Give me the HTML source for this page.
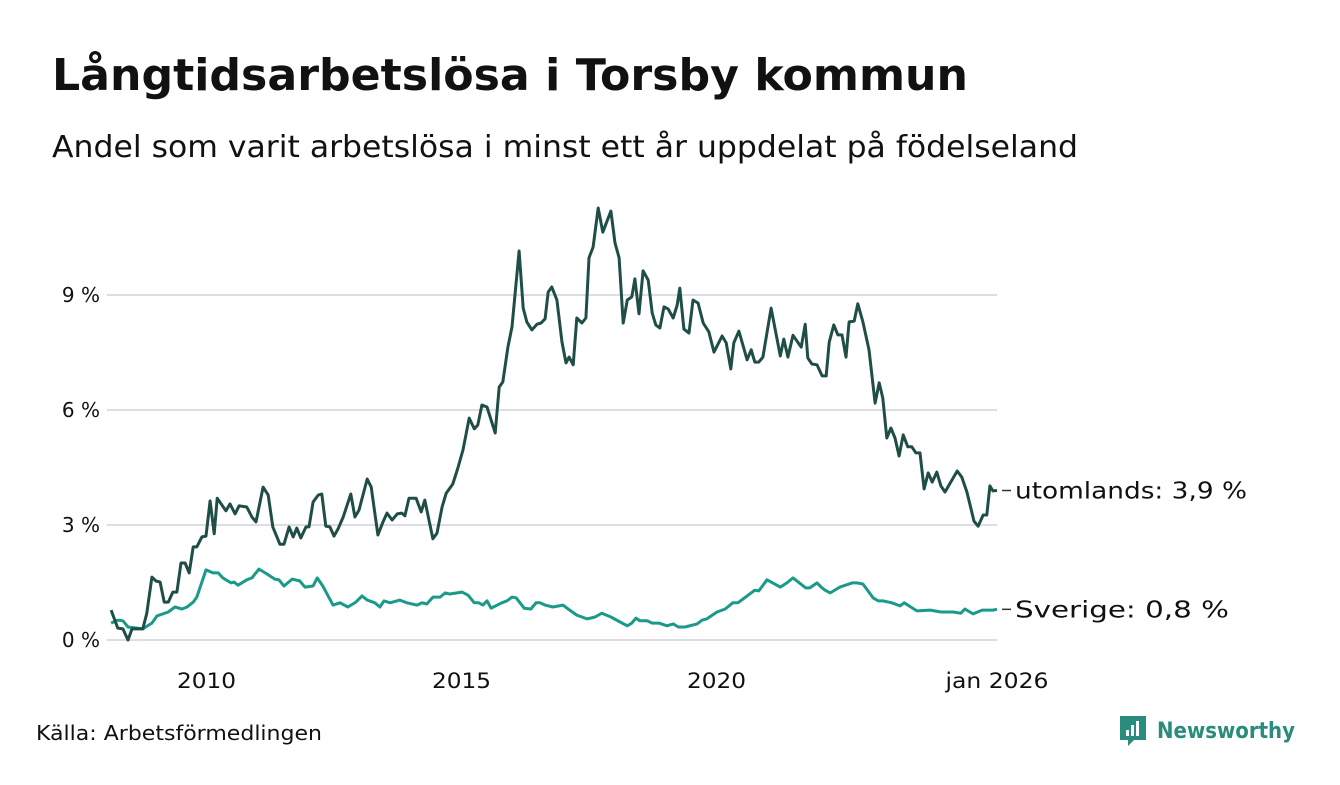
<!DOCTYPE html>
<html><head><meta charset="utf-8">
<style>
body{margin:0;background:#fff;width:1340px;height:780px;overflow:hidden;font-family:"Liberation Sans","DejaVu Sans",sans-serif;color:#111;}
svg text{font-family:"DejaVu Sans","Liberation Sans",sans-serif;}
</style></head>
<body>
<svg width="1340" height="780">
<text x="52" y="90" font-size="44" font-weight="bold" fill="#111" textLength="916" lengthAdjust="spacingAndGlyphs">Långtidsarbetslösa i Torsby kommun</text>
<text x="52" y="157" font-size="30" fill="#111" textLength="1026" lengthAdjust="spacingAndGlyphs">Andel som varit arbetslösa i minst ett år uppdelat på födelseland</text>
<g id="grid"></g><g id="yt"></g><g id="xt"></g><g id="lines"></g><g id="labels"></g>
<text x="36" y="740" font-size="20" fill="#111" textLength="286" lengthAdjust="spacingAndGlyphs">Källa: Arbetsförmedlingen</text>
<g>
<path d="M1120,716 h26 v24 h-12 l-6,6 v-6 h-8 z" fill="#2a8c7c"/>
<rect x="1126" y="730" width="3" height="6" fill="#fff"/><rect x="1131" y="725" width="3" height="11" fill="#fff"/><rect x="1136" y="721" width="3" height="15" fill="#fff"/>
<text x="1157" y="738" font-size="22" font-weight="bold" fill="#2a8c7c" textLength="138" lengthAdjust="spacingAndGlyphs">Newsworthy</text>
</g>
</svg>
<script>
const yTicks=[0,3,6,9];
const yTickLabels=["0 %","3 %","6 %","9 %"];
const xTicks=[2010.5,2015.5,2020.5,2026.0];
const xTickLabels=["2010","2015","2020","jan 2026"];
const datesU=[2008.63,2008.76,2008.86,2008.96,2009.04,2009.25,2009.33,2009.43,2009.51,2009.59,2009.67,2009.75,2009.84,2009.92,2010.00,2010.08,2010.16,2010.24,2010.31,2010.41,2010.49,2010.57,2010.65,2010.71,2010.88,2010.96,2011.06,2011.14,2011.29,2011.39,2011.47,2011.61,2011.71,2011.80,2011.94,2012.02,2012.12,2012.20,2012.27,2012.35,2012.45,2012.51,2012.59,2012.69,2012.76,2012.84,2012.92,2013.00,2013.08,2013.18,2013.33,2013.41,2013.49,2013.65,2013.73,2013.86,2013.96,2014.04,2014.14,2014.24,2014.33,2014.39,2014.47,2014.61,2014.71,2014.78,2014.94,2015.02,2015.12,2015.20,2015.33,2015.43,2015.53,2015.65,2015.75,2015.82,2015.90,2016.00,2016.16,2016.24,2016.31,2016.41,2016.49,2016.63,2016.71,2016.78,2016.88,2016.98,2017.06,2017.14,2017.20,2017.27,2017.37,2017.47,2017.55,2017.61,2017.69,2017.76,2017.86,2017.94,2018.00,2018.08,2018.18,2018.27,2018.43,2018.51,2018.59,2018.67,2018.75,2018.84,2018.90,2018.98,2019.06,2019.16,2019.24,2019.31,2019.39,2019.47,2019.55,2019.65,2019.73,2019.78,2019.86,2019.96,2020.04,2020.14,2020.24,2020.35,2020.45,2020.61,2020.69,2020.78,2020.84,2020.94,2021.10,2021.18,2021.25,2021.33,2021.41,2021.57,2021.75,2021.82,2021.90,2022.00,2022.16,2022.24,2022.29,2022.37,2022.47,2022.57,2022.65,2022.71,2022.80,2022.88,2022.96,2023.04,2023.10,2023.20,2023.27,2023.37,2023.49,2023.61,2023.69,2023.76,2023.84,2023.92,2024.00,2024.08,2024.16,2024.25,2024.33,2024.41,2024.49,2024.57,2024.65,2024.73,2024.82,2024.90,2024.98,2025.22,2025.31,2025.41,2025.55,2025.63,2025.73,2025.80,2025.86,2025.92,2026.00];
const valuesU=[0.78,0.31,0.29,0.0,0.29,0.29,0.70,1.64,1.54,1.51,0.99,0.99,1.25,1.25,2.01,2.01,1.75,2.43,2.43,2.69,2.71,3.63,2.77,3.70,3.37,3.55,3.29,3.50,3.47,3.21,3.08,3.99,3.78,2.95,2.50,2.50,2.95,2.69,2.92,2.66,2.95,2.95,3.60,3.78,3.81,2.97,2.95,2.71,2.90,3.21,3.81,3.21,3.39,4.20,3.99,2.74,3.08,3.31,3.13,3.29,3.31,3.24,3.70,3.70,3.34,3.65,2.64,2.79,3.47,3.83,4.07,4.49,4.96,5.79,5.51,5.61,6.13,6.08,5.40,6.60,6.73,7.64,8.17,10.15,8.66,8.30,8.09,8.24,8.27,8.38,9.08,9.21,8.87,7.77,7.23,7.38,7.18,8.40,8.27,8.40,9.97,10.25,11.27,10.64,11.19,10.36,9.97,8.27,8.87,8.95,9.42,8.51,9.63,9.39,8.53,8.22,8.14,8.69,8.64,8.40,8.74,9.18,8.11,8.01,8.87,8.79,8.27,8.04,7.51,7.93,7.75,7.07,7.75,8.06,7.31,7.57,7.25,7.25,7.38,8.66,7.41,7.85,7.38,7.95,7.64,8.24,7.36,7.20,7.18,6.89,6.89,7.77,8.22,7.96,7.96,7.38,8.30,8.32,8.77,8.30,7.57,6.18,6.71,6.31,5.27,5.53,5.27,4.80,5.35,5.04,5.04,4.88,4.88,3.94,4.36,4.12,4.38,4.02,3.86,4.41,4.25,3.86,3.10,2.97,3.26,3.26,4.02,3.89,3.90];
const datesS=[2008.63,2008.76,2008.86,2008.96,2009.25,2009.43,2009.53,2009.75,2009.88,2010.02,2010.12,2010.24,2010.31,2010.49,2010.63,2010.73,2010.82,2010.98,2011.04,2011.12,2011.29,2011.39,2011.53,2011.69,2011.84,2011.92,2012.02,2012.18,2012.33,2012.43,2012.59,2012.67,2012.78,2012.98,2013.12,2013.27,2013.43,2013.55,2013.65,2013.80,2013.90,2013.98,2014.10,2014.29,2014.43,2014.63,2014.73,2014.82,2014.94,2015.08,2015.18,2015.27,2015.51,2015.63,2015.75,2015.84,2015.92,2016.00,2016.08,2016.29,2016.39,2016.49,2016.57,2016.73,2016.86,2016.96,2017.04,2017.14,2017.29,2017.49,2017.59,2017.76,2017.86,2017.96,2018.12,2018.25,2018.43,2018.61,2018.75,2018.84,2018.92,2019.00,2019.14,2019.24,2019.37,2019.53,2019.65,2019.75,2019.88,2020.12,2020.22,2020.31,2020.51,2020.67,2020.82,2020.92,2021.10,2021.25,2021.33,2021.49,2021.75,2021.88,2022.00,2022.25,2022.33,2022.47,2022.57,2022.63,2022.73,2022.92,2023.16,2023.25,2023.37,2023.57,2023.67,2023.76,2023.94,2024.10,2024.18,2024.25,2024.43,2024.69,2024.90,2025.04,2025.14,2025.29,2025.37,2025.53,2025.71,2025.82,2025.92,2026.00];
const valuesS=[0.44,0.52,0.50,0.34,0.29,0.44,0.63,0.73,0.86,0.81,0.86,0.99,1.12,1.83,1.75,1.75,1.62,1.49,1.51,1.43,1.57,1.62,1.85,1.72,1.59,1.57,1.41,1.59,1.54,1.38,1.41,1.62,1.41,0.91,0.97,0.86,0.99,1.15,1.04,0.97,0.86,1.02,0.97,1.04,0.97,0.91,0.97,0.94,1.12,1.12,1.23,1.20,1.25,1.17,0.97,0.97,0.91,1.02,0.83,0.97,1.02,1.12,1.10,0.83,0.81,0.97,0.97,0.91,0.86,0.91,0.81,0.65,0.60,0.55,0.60,0.70,0.60,0.47,0.37,0.44,0.57,0.50,0.50,0.44,0.44,0.37,0.42,0.34,0.34,0.42,0.52,0.55,0.73,0.81,0.97,0.97,1.15,1.30,1.28,1.57,1.38,1.49,1.62,1.36,1.36,1.49,1.36,1.30,1.23,1.38,1.49,1.49,1.46,1.10,1.02,1.02,0.97,0.89,0.97,0.91,0.76,0.78,0.73,0.73,0.73,0.70,0.81,0.68,0.78,0.78,0.78,0.80];
const seriesLabels=["utomlands: 3,9 %","Sverige: 0,8 %"];

const NS="http://www.w3.org/2000/svg";
function xs(t){return 79+(t-2008)*51;}
function ys(v){return 640-v*38.33;}
function mk(tag,attrs,parent){const e=document.createElementNS(NS,tag);for(const k in attrs)e.setAttribute(k,attrs[k]);parent.appendChild(e);return e;}
const grid=document.getElementById('grid'),yt=document.getElementById('yt'),xt=document.getElementById('xt'),lines=document.getElementById('lines'),labels=document.getElementById('labels');
yTicks.forEach((v,i)=>{
  const l=mk('line',{x1:107,x2:997,y1:ys(v),y2:ys(v),stroke:'#dedde3','stroke-width':2},grid);
  
  
  const t=mk('text',{x:100,y:ys(v)+7,'font-size':20,'text-anchor':'end',fill:'#111'},yt);
  t.textContent=yTickLabels[i];
  
  
});
const xLabelWidths=[59,59,59,103];
xTicks.forEach((v,i)=>{
  const t=mk('text',{x:xs(v),y:688,'font-size':21,'text-anchor':'middle',fill:'#111',textLength:xLabelWidths[i],lengthAdjust:'spacingAndGlyphs'},xt);
  t.textContent=xTickLabels[i];
  
  
});
function path(d,v){return d.map((t,i)=>(i?'L':'M')+xs(t).toFixed(1)+','+ys(v[i]).toFixed(1)).join('');}
const pS=mk('path',{d:path(datesS,valuesS),fill:'none',stroke:'#1a9a88','stroke-width':3,'stroke-linejoin':'round'},lines);


const pU=mk('path',{d:path(datesU,valuesU),fill:'none',stroke:'#1f4e47','stroke-width':3,'stroke-linejoin':'round'},lines);


const labelWidths=[232,214];
[[datesU,valuesU,0],[datesS,valuesS,1]].forEach(([d,v,i])=>{
  const y=ys(v[v.length-1]);const x=xs(d[d.length-1]);
  const l=mk('line',{x1:x+5,x2:x+14,y1:y,y2:y,stroke:'#333','stroke-width':1.5},labels);
  
  
  const t=mk('text',{x:x+18,y:y+8,'font-size':23,fill:'#111',textLength:labelWidths[i],lengthAdjust:'spacingAndGlyphs'},labels);
  t.textContent=seriesLabels[i];
  
  
});
</script>
</body></html>
